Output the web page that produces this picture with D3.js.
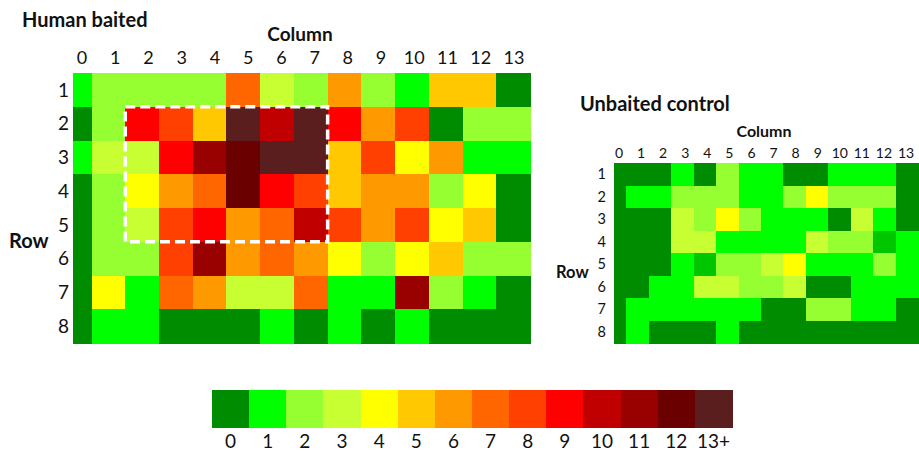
<!DOCTYPE html>
<html><head><meta charset="utf-8">
<script src="https://cdn.jsdelivr.net/npm/d3@7"></script>
<style>
body{margin:0;background:#fff;}
text{font-family:Lato,"Open Sans",sans-serif;fill:#111;}
</style></head>
<body><svg id="c" width="919" height="451"></svg>
<script>
const columns = d3.range(14);
const rows = [1,2,3,4,5,6,7,8];
const legendLabels = ["0","1","2","3","4","5","6","7","8","9","10","11","12","13+"];
const palette = ["#008C00","#00FF00","#96FF32","#C8FF32","#FFFF00","#FFC800","#FF9900","#FF6600","#FF4000","#FF0000","#C00000","#990000","#6B0000","#5A1E1E"];

// Human baited counts, rows 1..8, columns 0..13
const humanBaited = [
  [1,2,2,2,2,7,3,2,6,2,1,5,5,0],
  [0,2,9,8,5,13,10,13,9,6,8,0,2,2],
  [1,3,3,9,11,12,13,13,5,8,4,6,1,1],
  [0,2,4,6,7,12,9,8,5,6,6,2,4,0],
  [0,2,3,8,9,6,7,10,8,6,8,4,5,0],
  [0,2,2,8,11,6,7,6,4,2,4,5,2,2],
  [0,4,1,7,6,3,3,7,1,1,11,2,1,0],
  [0,1,1,0,0,0,1,0,1,0,1,0,0,0]
];
// Unbaited control counts
const unbaited = [
  [0,0,0,1,0,2,1,1,0,0,1,1,1,0],
  [0,1,1,2,2,2,1,1,2,4,2,2,2,0],
  [0,0,0,3,2,4,2,1,1,1,0,3,1,0],
  [0,0,0,3,3,1,1,1,1,3,2,2,0.5,1],
  [0,0,0,1,0.5,2,2,3,4,1,1,1,2,1],
  [0,0,1,1,3,3,2,2,3,0,0,1,1,1],
  [0,1,1,1,1,1,1,0,0,2,2,1,1,0],
  [0,1,0,0,0,1,0,0,0,0,0,0,0,0]
];
// highlighted block in the human baited map (columns 2-7, rows 2-5)
const boxCols = [2,7];
const boxRows = [2,5];

const color = d3.scaleLinear().domain(d3.range(palette.length)).range(palette).clamp(true);
const svg = d3.select("#c");

function heatmap(cfg){
  const g = svg.append("g");
  // the grid is seen from column 0.45 onwards, so column 0 is narrower
  const x = d3.scaleLinear().domain([0.45, columns.length]).range([cfg.x0, cfg.x1]);
  const y = d3.scaleBand().domain(rows).range([cfg.y0, cfg.y1]);
  const cells = [];
  cfg.data.forEach((r,i)=>r.forEach((v,j)=>cells.push({row:rows[i],col:columns[j],v})));
  g.selectAll("rect.cell").data(cells).join("rect")
    .attr("x", d=>x(Math.max(d.col, 0.45)))
    .attr("width", d=>x(d.col+1)-x(Math.max(d.col,0.45))+0.5)
    .attr("y", d=>y(d.row)).attr("height", y.bandwidth()+0.5)
    .attr("fill", d=>color(d.v)).attr("shape-rendering","crispEdges");
  const lx = d3.scalePoint().domain(columns).range(cfg.labelRange);
  g.selectAll("text.col").data(columns).join("text")
    .attr("x", d=>lx(d)).attr("y", cfg.colLabelY).attr("text-anchor","middle")
    .style("font-size", cfg.fs+"px").text(d=>d);
  g.selectAll("text.row").data(rows).join("text")
    .attr("x", cfg.rowLabelX).attr("y", d=>y(d)+y.bandwidth()/2).attr("dy","0.35em")
    .attr("text-anchor","end").style("font-size", cfg.rfs+"px").text(d=>d);
  g.append("text").attr("x", cfg.colTitleX).attr("y", cfg.colTitleY).attr("text-anchor","middle")
    .style("font-size", cfg.tfs+"px").style("font-weight","bold").text("Column");
  g.append("text").attr("x", cfg.rowTitleX).attr("y", cfg.rowTitleY).attr("dy","0.35em")
    .style("font-size", cfg.rtfs+"px").style("font-weight","bold").text("Row");
  g.append("text").attr("x", cfg.titleX).attr("y", cfg.titleY)
    .style("font-size", "20px").style("font-weight","bold").text(cfg.title);
  return {x, y, g};
}

const hb = heatmap({data:humanBaited, x0:73, x1:530, y0:73, y1:343, labelRange:[82,514], colLabelY:64,
  rowLabelX:69, fs:18, rfs:19, tfs:19, rtfs:20, colTitleX:300, colTitleY:41, rowTitleX:9, rowTitleY:241,
  titleX:22, titleY:27, title:"Human baited"});
hb.g.append("rect")
  .attr("x", hb.x(boxCols[0])).attr("y", hb.y(boxRows[0]))
  .attr("width", hb.x(boxCols[1]+1)-hb.x(boxCols[0]))
  .attr("height", hb.y(boxRows[1])+hb.y.bandwidth()-hb.y(boxRows[0]))
  .attr("fill","none").attr("stroke","#fff").attr("stroke-width",3.5).attr("stroke-dasharray","10,5");

heatmap({data:unbaited, x0:614, x1:918, y0:163, y1:343, labelRange:[619,906], colLabelY:158,
  rowLabelX:606, fs:14, rfs:14.5, tfs:16, rtfs:16.5, colTitleX:764, colTitleY:137, rowTitleX:556, rowTitleY:272,
  titleX:580, titleY:111, title:"Unbaited control"});

// legend
const lg = svg.append("g");
const lxs = d3.scaleBand().domain(legendLabels).range([212, 732]);
lg.selectAll("rect").data(legendLabels).join("rect")
  .attr("x", d=>lxs(d)).attr("y", 390).attr("width", lxs.bandwidth()+0.5).attr("height", 38)
  .attr("fill", (d,i)=>palette[i]).attr("shape-rendering","crispEdges");
lg.selectAll("text").data(legendLabels).join("text")
  .attr("x", d=>lxs(d)+lxs.bandwidth()/2).attr("y", 448).attr("text-anchor","middle")
  .style("font-size","19px").text(d=>d);
</script></body></html>
